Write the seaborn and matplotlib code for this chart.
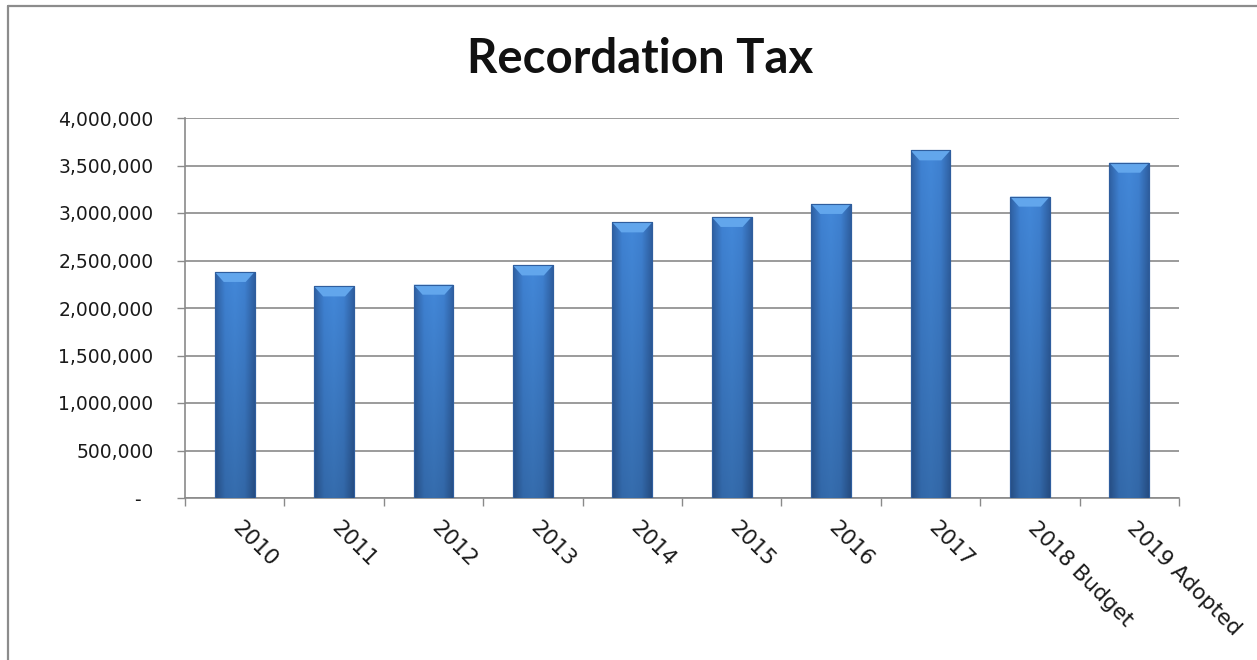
import numpy as np
import pandas as pd
import matplotlib
matplotlib.use('Agg')
import matplotlib.pyplot as plt
import seaborn as sns
from matplotlib.ticker import FuncFormatter, MultipleLocator, FixedLocator
from matplotlib.lines import Line2D
from matplotlib.patches import Polygon
from matplotlib.colors import LinearSegmentedColormap
import matplotlib.transforms as mtransforms

# values
years = ['2010', '2011', '2012', '2013', '2014', '2015', '2016', '2017',
         '2018 Budget', '2019 Adopted']
revenue = [2379000, 2227000, 2245000, 2448000, 2901000, 2958000, 3095000,
           3659000, 3172000, 3529000]

df = pd.DataFrame({'year': years, 'revenue': revenue})

sns.set_theme(style='white')
plt.rcParams['font.family'] = ['DejaVu Sans']

fig = plt.figure(figsize=(12.57, 6.6), dpi=100)
ax = fig.add_axes([185 / 1257, 1 - 498 / 660, (1179 - 185) / 1257, (498 - 118) / 660])

sns.barplot(data=df, x='year', y='revenue', color='#3b78c6', width=0.4,
            edgecolor='#2f5e9e', linewidth=0.8, ax=ax, zorder=3)

# fake the excel bevel look: gradient fill + light top facet
grad = LinearSegmentedColormap.from_list('bar', ['#2f60a2', '#3f82d3', '#4388d9', '#3f81d1', '#2f60a2'])
xs = np.linspace(0, 1, 64)
for p in ax.patches:
    x0, y0 = p.get_x(), p.get_y()
    w, h = p.get_width(), p.get_height()
    horiz = grad(xs)[None, :, :3]
    vert = np.linspace(1.0, 0.8, 64)[:, None, None]
    img = horiz * vert
    im = ax.imshow(img, extent=[x0, x0 + w, y0, y0 + h], aspect='auto',
                   origin='upper', zorder=3.5, interpolation='bilinear')
    im.set_clip_path(p)
    dx, dy = 0.09, 105000
    top = y0 + h
    bevel = Polygon([[x0, top], [x0 + w, top], [x0 + w - dx, top - dy], [x0 + dx, top - dy]],
                    closed=True, facecolor='#62a6ec', edgecolor='none', zorder=3.6)
    ax.add_patch(bevel)
    ax.add_patch(Polygon([[x0, y0], [x0, top], [x0 + w, top], [x0 + w, y0]], closed=True,
                         fill=False, edgecolor='#2f5e9e', linewidth=0.8, zorder=3.7))

ax.set_xlim(-0.5, len(years) - 0.5)
ax.set_ylim(0, 4000000)
ax.set_xlabel('')
ax.set_ylabel('')

grid_c = '#8a8a8a'
ax.yaxis.set_major_locator(MultipleLocator(500000))
ax.yaxis.set_major_formatter(FuncFormatter(lambda v, _: '-  ' if v == 0 else f'{v:,.0f}'))
ax.grid(axis='y', color=grid_c, linewidth=1.2, zorder=0)
ax.grid(axis='x', visible=False)

for s in ['top', 'right']:
    ax.spines[s].set_visible(False)
for s in ['left', 'bottom']:
    ax.spines[s].set_color(grid_c)
    ax.spines[s].set_linewidth(1.2)

ax.tick_params(axis='y', which='major', direction='out', length=5.8, width=1.0,
               color=grid_c, pad=17, labelsize=13.5, labelcolor='#1a1a1a', left=True)

# category boundary ticks on x
ax.xaxis.set_minor_locator(FixedLocator(np.arange(-0.5, len(years), 1.0)))
ax.tick_params(axis='x', which='minor', direction='out', length=6, width=1.0,
               color=grid_c, bottom=True)
ax.tick_params(axis='x', which='major', length=0, pad=14, labelsize=15.5,
               labelcolor='#1a1a1a')
shift = mtransforms.ScaledTranslation(8 / 100, 0, fig.dpi_scale_trans)
for lab in ax.get_xticklabels():
    lab.set_rotation(-45)
    lab.set_ha('left')
    lab.set_va('top')
    lab.set_rotation_mode('anchor')
    lab.set_transform(lab.get_transform() + shift)

fig.text(640 / 1257, 1 - 73 / 660, 'Recordation Tax', ha='center', va='baseline',
         fontsize=34, fontweight='bold', family=['Lato', 'DejaVu Sans'], color='#111111')

# outer frame of the pasted chart (only top and left visible)
fig.add_artist(Line2D([8 / 1257, 8 / 1257], [0, 1 - 6 / 660], transform=fig.transFigure,
                      color='#8c8c8c', linewidth=1.6))
fig.add_artist(Line2D([8 / 1257, 1], [1 - 6 / 660, 1 - 6 / 660], transform=fig.transFigure,
                      color='#8c8c8c', linewidth=1.6))

fig.savefig('out.png', dpi=100)
